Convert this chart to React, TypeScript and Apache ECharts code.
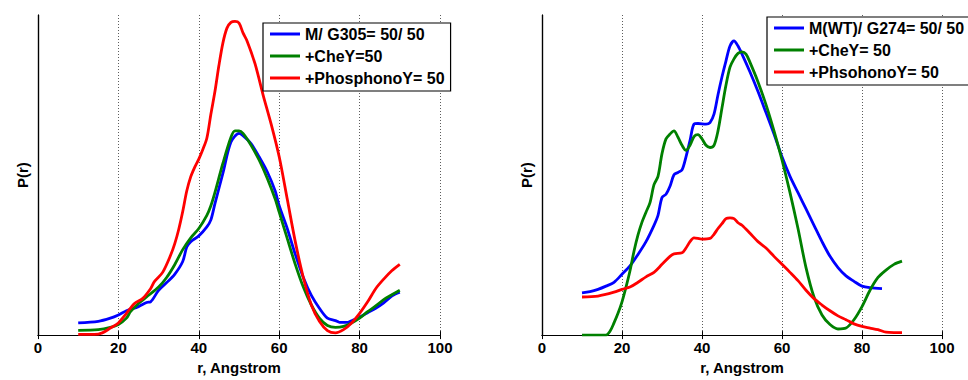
import React, { useEffect, useRef } from "react";
import * as echarts from "echarts";

const xTicks = [0, 20, 40, 60, 80, 100];

const leftNames = ["M/ G305= 50/ 50", "+CheY=50", "+PhosphonoY= 50"];
const rightNames = ["M(WT)/ G274= 50/ 50", "+CheY= 50", "+PhsohonoY= 50"];
const colors = ["#0000ff", "#008000", "#ff0000"];

const leftBlue = [
  [10, 3.8], [15, 4.3], [18, 5.3], [20, 6.3], [22, 7.6], [25, 8.9], [27, 10.2], [28, 10.4],
  [30, 14], [32, 16.4], [34, 19], [36, 23], [37, 27.5], [38, 29.2], [40, 31], [42, 33.8],
  [43, 36], [44, 41], [46, 50.6], [48, 60.3], [50, 63], [51, 62.3], [53, 59.8], [55, 55.7],
  [57, 51.1], [59, 45], [60, 40.4], [62, 33.3], [64, 25.2], [66, 18], [68, 12.4], [70, 8.4],
  [72, 5.3], [74, 4.5], [75, 4], [77, 4], [78, 4.5], [80, 5.6], [82, 7], [84, 8.4],
  [86, 10.1], [88, 12.2], [90, 13.4],
];
const leftGreen = [
  [10, 1.5], [15, 1.7], [18, 2.4], [20, 3.3], [22, 5.3], [23, 7.3], [25, 9.9], [27, 11.9],
  [30, 15], [32, 18], [34, 22], [36, 26.7], [38, 30.4], [40, 33.3], [42, 37.4], [43, 40.4],
  [44, 44.5], [46, 53.7], [48, 61.8], [49, 63.8], [50, 63.8], [51, 63], [53, 59.3], [55, 54.7],
  [57, 49.1], [59, 42.5], [60, 38.4], [62, 30.2], [64, 22.1], [66, 15], [68, 9.4], [70, 5.3],
  [72, 3], [74, 2.4], [76, 2.7], [78, 3.8], [80, 5.3], [82, 7.3], [84, 9.1], [86, 11.1],
  [88, 12.6], [90, 14],
];
const leftRed = [
  [10, 0.2], [14, 0.2], [16, 0.7], [18, 2.2], [20, 3.8], [22, 6.8], [24, 9.9], [26, 11.4],
  [28, 14.5], [29, 16.8], [31, 19.6], [33, 25], [34, 28.5], [35, 33], [36, 38.6], [37, 45],
  [38, 49.5], [39, 52.5], [40, 55], [41, 58], [42, 61.5], [43, 69], [44, 76], [45, 84.2],
  [46, 91.3], [47, 95.9], [48, 97.7], [49, 98], [50, 97.5], [51, 94.4], [52, 91.9], [54, 84.7],
  [56, 75], [58, 65.9], [60, 55.7], [62, 42.5], [64, 29.2], [66, 18], [68, 9.4], [70, 4.3],
  [72, 1.4], [74, 0.7], [76, 1.7], [78, 3.8], [80, 6.8], [82, 10.4], [84, 14.5], [86, 17.5],
  [88, 20.1], [90, 22.1],
];

const rightBlue = [
  [10, 13.2], [12, 13.6], [14, 14.3], [16, 15.3], [18, 16.5], [20, 19], [22, 21.6], [24, 25.2],
  [26, 29.2], [28, 34.3], [29, 37.4], [30, 43], [31, 44], [32, 46.5], [33, 50.1], [34, 50.8],
  [35, 51.6], [36, 55.7], [37, 60.8], [38, 65.9], [39, 66.1], [41, 65.9], [42, 66.4], [43, 69],
  [44, 75.1], [45, 80.7], [46, 85.7], [47, 90.3], [48, 91.9], [49, 90.3], [50, 87.8], [52, 82.2],
  [54, 76.1], [56, 69.5], [58, 62.8], [60, 55.7], [62, 49.6], [64, 44.5], [66, 39.4], [68, 34.3],
  [70, 29.2], [72, 24.6], [74, 21.1], [76, 18.5], [78, 16.8], [80, 15.3], [82, 14.8], [85, 14.5],
];
const rightGreen = [
  [10, 0], [16, 0], [17, 1.2], [18, 3.8], [19, 6.8], [20, 10.4], [21, 15], [22, 20.1],
  [23, 26.2], [24, 31.3], [25, 35.3], [26, 38.4], [27, 41.4], [28, 47], [29, 49.6], [30, 56.7],
  [31, 61.3], [32, 62.8], [33, 63.8], [34, 61.8], [35, 59.3], [36, 57.7], [37, 59.3], [38, 62],
  [39, 62.6], [40, 61.3], [41, 59.3], [42, 58.6], [43, 59.3], [44, 63.8], [45, 71], [46, 78.1],
  [47, 83.7], [48, 86.3], [49, 88], [50, 88.5], [51, 87.8], [52, 85.2], [54, 79.1], [56, 72],
  [58, 63.8], [60, 54.7], [62, 44.5], [64, 33.3], [66, 21.1], [68, 11.9], [70, 6.3], [72, 3.3],
  [74, 1.9], [76, 2.2], [78, 4.8], [80, 8.9], [82, 14], [84, 18], [86, 20.3], [88, 22.1], [90, 23.1],
];
const rightRed = [
  [10, 11.9], [14, 12.2], [18, 13.4], [20, 14.3], [22, 15], [24, 16.5], [26, 18.2], [28, 19.6],
  [30, 22.1], [32, 24.6], [33, 25.4], [35, 25.7], [36, 27.2], [37, 29.2], [38, 30.4], [40, 30],
  [42, 30.2], [43, 31.5], [44, 33.3], [45, 34.8], [46, 36.4], [47, 36.6], [48, 36.4], [49, 35.1],
  [50, 34.3], [52, 31.8], [54, 29.2], [56, 27.2], [58, 24.6], [60, 22.1], [62, 19.6], [64, 17],
  [66, 14], [68, 11.4], [70, 9.4], [72, 7.6], [74, 6], [76, 4.8], [78, 3.5], [80, 2.7],
  [82, 2.2], [84, 1.7], [86, 0.9], [88, 0.8], [90, 0.8],
];

const FONT = "'Liberation Sans', Arial, Helvetica, sans-serif";

export default function App() {
  const ref = useRef<HTMLDivElement>(null);
  useEffect(() => {
    if (!ref.current) return;
    const chart = echarts.init(ref.current, null, { renderer: "svg" });
    const grids = [
      { left: 38, top: 15, width: 402, height: 327 },
      { left: 542, top: 15, width: 400, height: 327 },
    ];
    const xAxes: any[] = [];
    const yAxes: any[] = [];
    grids.forEach((_, gi) => {
      xAxes.push({
        type: "value",
        gridIndex: gi,
        min: xTicks[0],
        max: xTicks[xTicks.length - 1],
        interval: 20,
        position: "bottom",
        name: "r, Angstrom",
        nameLocation: "middle",
        nameGap: 20,
        nameTextStyle: { fontFamily: FONT, fontSize: 15, fontWeight: "bold", color: "#000", verticalAlign: "top" },
        axisLine: { show: true, lineStyle: { color: "#000", width: 1.2 } },
        axisTick: { show: true, inside: true, length: 4, lineStyle: { color: "#000" } },
        axisLabel: { margin: 5, fontFamily: FONT, fontSize: 15, fontWeight: "bold", color: "#000" },
        splitLine: { show: true, lineStyle: { color: "#333", type: [1, 2], width: 0.8 } },
      });
      xAxes.push({
        type: "value",
        gridIndex: gi,
        min: xTicks[0],
        max: xTicks[xTicks.length - 1],
        interval: 20,
        position: "top",
        axisLine: { show: true, lineStyle: { color: "#000", width: 1.2 } },
        axisTick: { show: true, inside: true, length: 4, lineStyle: { color: "#000" } },
        axisLabel: { show: false },
        splitLine: { show: false },
      });
      yAxes.push({
        type: "value",
        gridIndex: gi,
        min: 0,
        max: 100,
        name: "P(r)",
        nameLocation: "middle",
        nameGap: 8,
        nameTextStyle: { fontFamily: FONT, fontSize: 15, fontWeight: "bold", color: "#000" },
        axisLine: { show: true, lineStyle: { color: "#000", width: 1.2 } },
        axisTick: { show: false },
        axisLabel: { show: false },
        splitLine: { show: false },
      });
      yAxes.push({
        type: "value",
        gridIndex: gi,
        min: 0,
        max: 100,
        position: "right",
        axisLine: { show: true, lineStyle: { color: "#000", width: 1.2 } },
        axisTick: { show: false },
        axisLabel: { show: false },
        splitLine: { show: false },
      });
    });

    const mk = (name: string, data: number[][], color: string, gi: number) => ({
      type: "line",
      name,
      data,
      xAxisIndex: gi * 2,
      yAxisIndex: gi * 2,
      showSymbol: false,
      symbol: "none",
      smooth: 0.3,
      color,
      lineStyle: { color, width: 2.8 },
      z: 3,
    });

    const legendBase = {
      orient: "vertical",
      align: "left",
      icon: "rect",
      itemWidth: 30,
      itemHeight: 3,
      itemGap: 4,
      padding: [2, 6, 4, 7],
      backgroundColor: "#fff",
      borderColor: "#000",
      borderWidth: 1.2,
      textStyle: { fontFamily: FONT, fontSize: 16, fontWeight: "bold", color: "#000", lineHeight: 18 },
      z: 10,
    };

    chart.setOption({
      animation: false,
      backgroundColor: "#fff",
      grid: grids.map((g) => ({ ...g, containLabel: false })),
      xAxis: xAxes,
      yAxis: yAxes,
      legend: [
        { ...legendBase, left: 263, top: 23, data: leftNames },
        { ...legendBase, left: 767, top: 17, data: rightNames },
      ],
      series: [
        mk(leftNames[0], leftBlue, colors[0], 0),
        mk(leftNames[1], leftGreen, colors[1], 0),
        mk(leftNames[2], leftRed, colors[2], 0),
        mk(rightNames[0], rightBlue, colors[0], 1),
        mk(rightNames[1], rightGreen, colors[1], 1),
        mk(rightNames[2], rightRed, colors[2], 1),
      ],
    });
    return () => chart.dispose();
  }, []);
  return (
    <div
      ref={ref}
      style={{ position: "fixed", left: 0, top: 0, width: 968, height: 380, background: "#fff" }}
    />
  );
}
